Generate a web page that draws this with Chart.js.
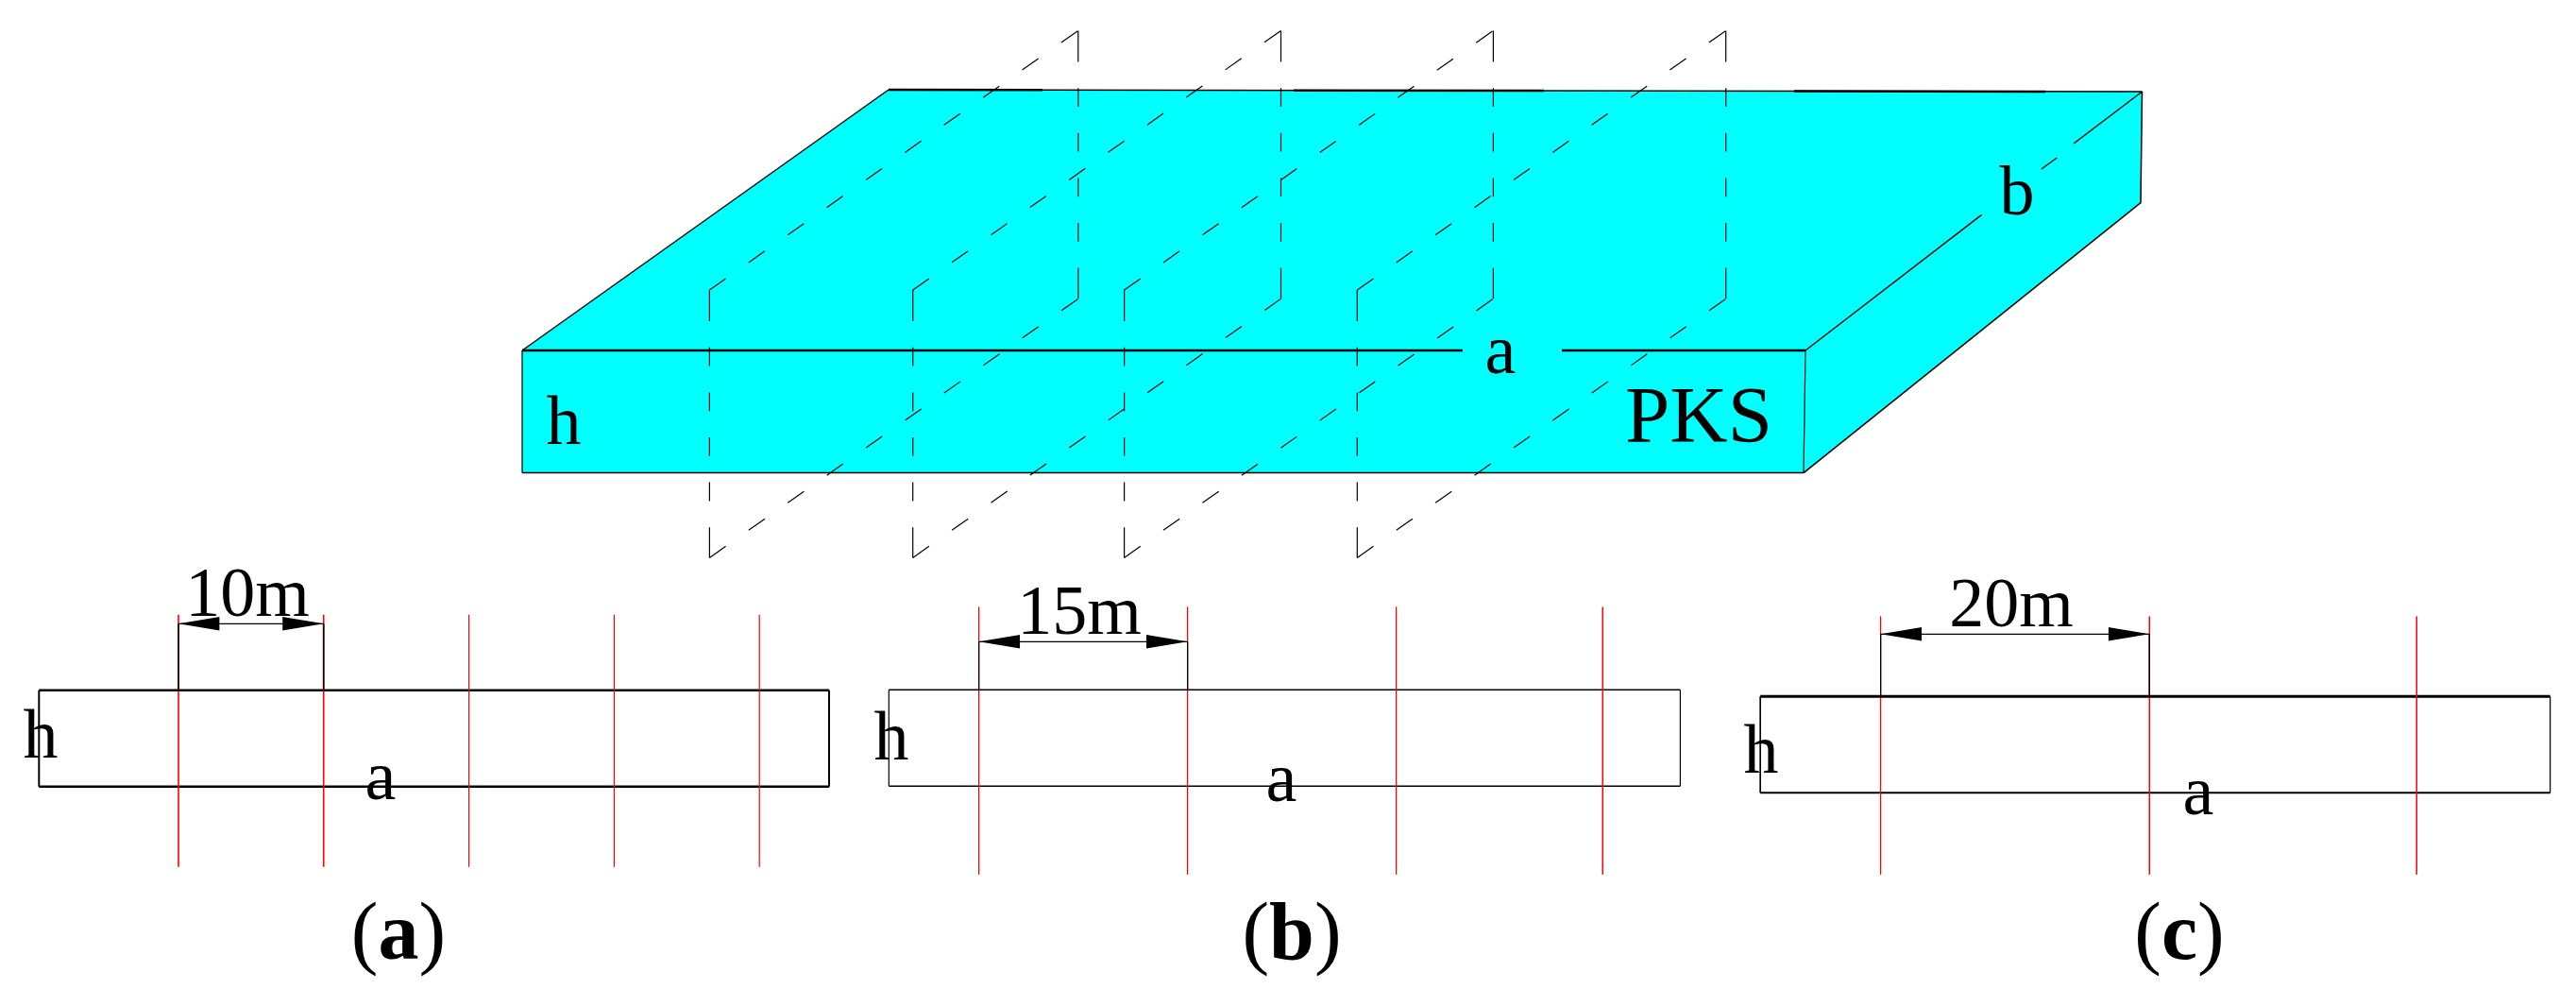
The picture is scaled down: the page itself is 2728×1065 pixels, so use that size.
<!DOCTYPE html>
<html>
<head>
<meta charset="utf-8">
<title>PKS slab</title>
<script src="https://cdn.jsdelivr.net/npm/chart.js@4/dist/chart.umd.min.js"></script>
<style>
  html, body { margin: 0; padding: 0; background: #fff; }
  #wrap { width: 2728px; height: 1065px; }
</style>
</head>
<body>
<div id="wrap"><canvas id="slabchart"></canvas></div>
<script>
// slab outline
const slabTopEdge = [[553, 371], [941, 95], [2268.5, 97]];
const slabLowEdge = [[553, 500.6], [1910, 500.6], [2267, 214.7], [2268.5, 97]];
const frontTopLeft = [[553, 371], [1549, 371]];
const frontTopRight = [[1654, 371], [1912, 371]];
const frontBottom = [[553, 500.6], [1910, 500.6]];
const frontLeft = [[553, 371], [553, 500.6]];
const frontRight = [[1912, 371], [1910, 500.6]];
const backEdge = [[941, 95], [2268.5, 97]];
const backEdgeHeavy = [
  [[941, 95], [1104, 95.3]],
  [[1370, 95.7], [1635, 96.1]],
  [[1900, 96.5], [2166, 96.9]],
];
const leftEdge = [[553, 371], [941, 95]];
const rightOuter = [[1910, 500.6], [2267, 214.7], [2268.5, 97]];
const bEdgeParts = [
  [[1912, 371], [2098.6, 227.4]],
  [[2161.8, 179], [2178.4, 167]],
  [[2196, 152], [2268.5, 97]],
];

// the four dashed planes through the slab
const planeFrontX = [751.4, 966.7, 1190.6, 1437.3];
const planeBackX = [1141.8, 1356.5, 1581.4, 1827.7];
const planeFrontTop = 307;
const planeFrontBottom = 590.4;
const planeBackTop = 32.4;
const planeBackBottom = 316.3;

// section views
const panelA = { left: 41.3, right: 878, top: 730.7, bottom: 832.7, cuts: [189, 342.7, 496.6, 650.4, 804.2], cutTop: 650.7, cutBottom: 917.7, arrowY: 660.3 };
const panelB = { left: 941.3, right: 1779.4, top: 730.3, bottom: 832.3, cuts: [1036.6, 1257.6, 1478.6, 1697.3], cutTop: 642.7, cutBottom: 925.7, arrowY: 679.3 };
const panelC = { left: 1864.2, right: 2700.6, top: 737.3, bottom: 839.3, cuts: [1991.6, 2276.3, 2559.3], cutTop: 652.7, cutBottom: 925.7, arrowY: 671.3 };

const BLACK = "#000000";
const RED = "#ff0000";
const CYAN = "#00ffff";

const xy = (pts) => pts.map((p) => ({ x: p[0], y: p[1] }));

function seg(pts, color, width, dash) {
  return {
    data: xy(pts),
    showLine: true,
    borderColor: color,
    borderWidth: width,
    borderDash: dash || [],
    pointRadius: 0,
    fill: false,
  };
}

function filledBetween(upper, lower, color) {
  return [
    { data: xy(upper), showLine: true, borderWidth: 0, pointRadius: 0, backgroundColor: color, fill: "+1" },
    { data: xy(lower), showLine: true, borderWidth: 0, pointRadius: 0, fill: false },
  ];
}

function arrowHead(tipX, baseX, y) {
  const halfW = 7.2;
  const up = tipX < baseX ? [[tipX, y], [baseX, y - halfW]] : [[baseX, y - halfW], [tipX, y]];
  const down = tipX < baseX ? [[tipX, y], [baseX, y + halfW]] : [[baseX, y + halfW], [tipX, y]];
  return filledBetween(up, down, BLACK);
}

function panelSets(p, topW, bottomW, sideW, cutWidths, witnessW) {
  let out = [];
  out.push(seg([[p.left, p.top], [p.right, p.top]], BLACK, topW));
  out.push(seg([[p.left, p.bottom], [p.right, p.bottom]], BLACK, bottomW));
  out.push(seg([[p.left, p.top], [p.left, p.bottom]], BLACK, sideW));
  out.push(seg([[p.right, p.top], [p.right, p.bottom]], BLACK, sideW));
  p.cuts.forEach((x, i) => {
    out.push(seg([[x, p.cutTop], [x, p.cutBottom]], RED, cutWidths[i]));
  });
  // witness lines and arrow between first two cuts, these sit on top of the red
  const x1 = p.cuts[0];
  const x2 = p.cuts[1];
  out.push(seg([[x1, p.arrowY], [x1, p.top + 1]], BLACK, witnessW));
  out.push(seg([[x2, p.arrowY], [x2, p.top + 1]], BLACK, witnessW));
  out.push(seg([[x1, p.arrowY], [x2, p.arrowY]], BLACK, 1.2));
  out = out.concat(arrowHead(x1, x1 + 43.6, p.arrowY));
  out = out.concat(arrowHead(x2, x2 - 43.6, p.arrowY));
  return out;
}

let datasets = [];
datasets = datasets.concat(filledBetween(slabTopEdge, slabLowEdge, CYAN));
datasets.push(seg(frontTopLeft, BLACK, 2.5));
datasets.push(seg(frontTopRight, BLACK, 2.5));
datasets.push(seg(frontBottom, BLACK, 1.5));
datasets.push(seg(frontLeft, BLACK, 1.2));
datasets.push(seg(frontRight, BLACK, 1.2));
datasets.push(seg(backEdge, BLACK, 1.5));
backEdgeHeavy.forEach((b) => datasets.push(seg(b, BLACK, 2.5)));
datasets.push(seg(leftEdge, BLACK, 1.5));
datasets.push(seg(rightOuter, BLACK, 1.5));
bEdgeParts.forEach((b) => datasets.push(seg(b, BLACK, 1.5)));

// verticals have long end dashes, slanted ones are even
const vertDash = [33, 27.8, 19.8, 27.8, 19.8, 27.8, 19.8, 27.8, 19.8, 27.8, 33];
const slantDash = [21, 29.6];
planeFrontX.forEach((fx, i) => {
  const bx = planeBackX[i];
  datasets.push(seg([[fx, planeFrontTop], [fx, planeFrontBottom]], BLACK, 1.2, vertDash));
  datasets.push(seg([[bx, planeBackTop], [bx, planeBackBottom]], BLACK, 1.2, vertDash));
  datasets.push(seg([[fx, planeFrontTop], [bx, planeBackTop]], BLACK, 1.2, slantDash));
  datasets.push(seg([[fx, planeFrontBottom], [bx, planeBackBottom]], BLACK, 1.2, slantDash));
});

datasets = datasets.concat(panelSets(panelA, 2.5, 2.5, 2, [1.6, 1.6, 1.2, 1.2, 1.2], 1.6));
datasets = datasets.concat(panelSets(panelB, 1.5, 1.5, 1.2, [1, 1, 1, 1], 1));
datasets = datasets.concat(panelSets(panelC, 3, 2, 1, [1, 1, 1], 1));

// chart.js paints the last index first, so flip it: later in the list = on top
datasets.forEach((d, i) => {
  d.order = -i;
});

// text, placed in the same units as the axes
const textItems = [
  ["h", 597, 470, 74],
  ["a", 1589, 395, 74],
  ["b", 2136, 227, 74],
  ["PKS", 1799, 468, 85],
  ["10m", 262, 652, 74],
  ["h", 43, 802, 74],
  ["a", 403, 846, 74],
  ["15m", 1143, 671, 74],
  ["h", 944, 804, 74],
  ["a", 1357, 848, 74],
  ["20m", 2130, 663, 74],
  ["h", 1865, 818, 74],
  ["a", 2328, 862, 74],
];
const captions = [
  ["a", 422, 1015],
  ["b", 1368, 1015],
  ["c", 2308, 1015],
];

const textPlugin = {
  id: "slabText",
  afterDatasetsDraw(chart) {
    const { ctx, scales } = chart;
    const family = '"Liberation Serif", "Times New Roman", serif';
    ctx.save();
    ctx.fillStyle = BLACK;
    ctx.textBaseline = "alphabetic";
    ctx.textAlign = "center";
    textItems.forEach((t) => {
      ctx.font = `${t[3]}px ${family}`;
      ctx.fillText(t[0], scales.x.getPixelForValue(t[1]), scales.y.getPixelForValue(t[2]));
    });
    ctx.textAlign = "left";
    captions.forEach((c) => {
      const size = 86;
      const normal = `${size}px ${family}`;
      const bold = `bold ${size}px ${family}`;
      ctx.font = bold;
      const mid = ctx.measureText(c[0]).width;
      ctx.font = normal;
      const side = ctx.measureText("(").width;
      const x0 = scales.x.getPixelForValue(c[1]) - mid / 2 - side;
      const y0 = scales.y.getPixelForValue(c[2]);
      ctx.fillText("(", x0, y0);
      ctx.fillText(")", x0 + side + mid, y0);
      ctx.font = bold;
      ctx.fillText(c[0], x0 + side, y0);
    });
    ctx.restore();
  },
};

const slabChart = new Chart(document.getElementById("slabchart"), {
  type: "scatter",
  data: { datasets: datasets },
  plugins: [textPlugin],
  options: {
    responsive: true,
    maintainAspectRatio: false,
    animation: false,
    layout: { padding: 0 },
    plugins: {
      legend: { display: false },
      tooltip: { enabled: false },
      filler: { drawTime: "beforeDatasetsDraw" },
    },
    scales: {
      x: { type: "linear", min: 0, max: 2728, display: false },
      y: { type: "linear", min: 0, max: 1065, reverse: true, display: false },
    },
  },
});
</script>
</body>
</html>
